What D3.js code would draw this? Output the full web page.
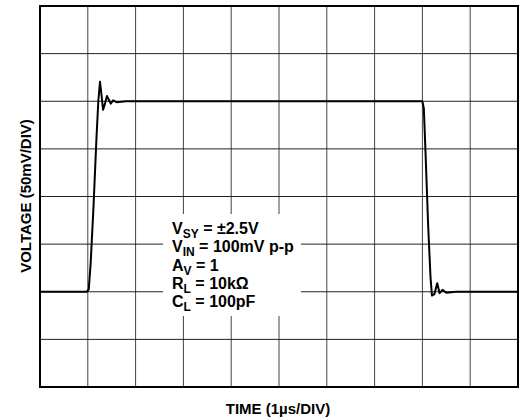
<!DOCTYPE html>
<html>
<head>
<meta charset="utf-8">
<script src="https://cdn.jsdelivr.net/npm/d3@7"></script>
<style>
  body { margin: 0; background: #fff; }
  text { font-family: "Liberation Sans", Arial, sans-serif; font-weight: bold; }
</style>
</head>
<body>
<div id="chart"></div>
<script>
// time in divisions (1us/div), voltage in divisions (50mV/div)
const traceTime = [0, 0.5, 0.98, 1.02, 1.06, 1.12, 1.18, 1.22, 1.255, 1.29, 1.32, 1.36, 1.40, 1.44, 1.48, 1.53, 1.6, 1.8,
                   3, 5, 7, 7.8, 8.0, 8.03, 8.07, 8.12, 8.17, 8.2, 8.25, 8.31, 8.36, 8.42, 8.5, 8.7, 9, 9.5, 10];
const traceVolt = [2.0, 2.0, 2.0, 2.05, 2.6, 3.8, 5.2, 6.0, 6.41, 6.1, 5.82, 5.95, 6.11, 6.03, 5.95, 6.02, 5.98, 6.0,
                   6.0, 6.0, 6.0, 6.0, 6.0, 5.85, 4.8, 3.4, 2.3, 1.92, 1.95, 2.18, 1.97, 2.04, 1.98, 2.0, 2.0, 2.0, 2.0];

const gridCols = d3.range(1, 10);
const gridRows = d3.range(1, 8);

const noteLines = [
  {main: 'V', sub: 'SY', rest: ' = \u00b12.5V'},
  {main: 'V', sub: 'IN', rest: ' = 100mV p-p'},
  {main: 'A', sub: 'V', rest: ' = 1'},
  {main: 'R', sub: 'L', rest: ' = 10k\u03a9'},
  {main: 'C', sub: 'L', rest: ' = 100pF'}
];

const xTitle = 'TIME (1\u00b5s/DIV)';
const yTitle = 'VOLTAGE (50mV/DIV)';

const W = 522, H = 419;
const box = {left: 40, top: 6, right: 518, bottom: 387};

const svg = d3.select('#chart').append('svg')
              .attr('width', W)
              .attr('height', H);

const x = d3.scaleLinear().domain([0, 10]).range([box.left, box.right]);
const y = d3.scaleLinear().domain([0, 8]).range([box.bottom, box.top]);

// grid
svg.append('g').selectAll('line').data(gridCols).join('line')
   .attr('x1', d => x(d)).attr('x2', d => x(d))
   .attr('y1', y(0)).attr('y2', y(8))
   .attr('stroke', '#444').attr('stroke-width', 1);

svg.append('g').selectAll('line').data(gridRows).join('line')
   .attr('x1', x(0)).attr('x2', x(10))
   .attr('y1', d => y(d)).attr('y2', d => y(d))
   .attr('stroke', '#222').attr('stroke-width', 1);

// white box behind the test conditions
svg.append('rect')
   .attr('x', 163).attr('y', 214)
   .attr('width', 138).attr('height', 102)
   .attr('fill', '#fff');

// trace
const line = d3.line()
               .x((d, i) => x(traceTime[i]))
               .y(d => y(d));

svg.append('path')
   .datum(traceVolt)
   .attr('d', line)
   .attr('fill', 'none')
   .attr('stroke', '#000')
   .attr('stroke-width', 2)
   .attr('stroke-linejoin', 'round');

// frame
svg.append('rect')
   .attr('x', box.left).attr('y', box.top)
   .attr('width', box.right - box.left).attr('height', box.bottom - box.top)
   .attr('fill', 'none')
   .attr('stroke', '#000')
   .attr('stroke-width', 2);

// notes
const notes = svg.append('g').selectAll('text').data(noteLines).join('text')
                 .attr('x', 172)
                 .attr('y', (d, i) => 234 + i * 18.3)
                 .style('font-size', '16px');
notes.append('tspan').text(d => d.main);
notes.append('tspan').attr('dy', 4).style('font-size', '12px').text(d => d.sub);
notes.append('tspan').attr('dy', -4).text(d => d.rest);

// axis titles
svg.append('text')
   .attr('x', 278).attr('y', 414)
   .attr('text-anchor', 'middle')
   .style('font-size', '15px')
   .text(xTitle);

svg.append('text')
   .attr('transform', 'translate(31, 196) rotate(-90)')
   .attr('text-anchor', 'middle')
   .style('font-size', '15px')
   .text(yTitle);
</script>
</body>
</html>
